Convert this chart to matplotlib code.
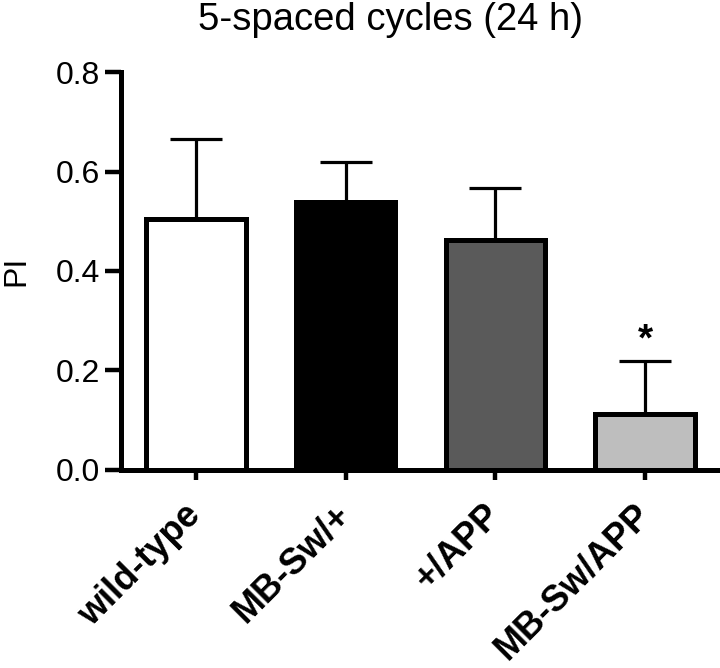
import matplotlib
matplotlib.use("Agg")
import matplotlib.pyplot as plt

plt.rcParams['font.family'] = ['Liberation Sans', 'DejaVu Sans']

categories = ["wild-type", "MB-Sw/+", "+/APP", "MB-Sw/APP"]
means = [0.504, 0.538, 0.462, 0.112]
sems = [0.161, 0.081, 0.104, 0.106]
colors = ["#ffffff", "#000000", "#5a5a5a", "#bebebe"]
yticks = [0.0, 0.2, 0.4, 0.6, 0.8]
title = "5-spaced cycles (24 h)"
ylabel = "PI"
star_index = 3
star_y = 0.259

fig = plt.figure(figsize=(7.2, 6.68), dpi=100)
ax = fig.add_axes([0.168, 0.297, 0.832, 0.595])

x = list(range(len(categories)))
ax.bar(x, means, width=0.665, color=colors, edgecolor="black", linewidth=3.6, zorder=2)
ax.errorbar(x, means, yerr=[[0]*len(sems), sems], fmt='none', ecolor='black',
            elinewidth=2.3, capsize=18.4, capthick=2.3, zorder=1)

ax.set_xlim(-0.5, 3.5)
ax.set_ylim(0, 0.8)
ax.set_yticks(yticks)
ax.set_yticklabels([f"{v:.1f}" for v in yticks], fontsize=23)
ax.set_xticks(x)
ax.set_xticklabels([])
for xi, lab in zip(x, categories):
    ax.annotate(lab, xy=(xi, 0), xycoords=('data', 'axes fraction'),
                xytext=(-9, -20), textcoords='offset points',
                fontsize=26, fontweight='bold', rotation=45,
                ha='right', va='top', rotation_mode='anchor', annotation_clip=False)

for s in ['top', 'right']:
    ax.spines[s].set_visible(False)
for s in ['left', 'bottom']:
    ax.spines[s].set_linewidth(3.6)
ax.tick_params(axis='y', length=11.5, width=3.2, pad=3.5)
ax.tick_params(axis='x', length=7.5, width=3.2)

ax.set_ylabel(ylabel, fontsize=23)
ax.yaxis.set_label_coords(-0.15, 0.5)

ax.text(star_index, star_y, "*", ha='center', va='center', fontsize=28, fontweight='bold')

fig.text(0.542, 0.97, title, ha='center', va='center', fontsize=27.5)

fig.savefig("out.png", dpi=100)
